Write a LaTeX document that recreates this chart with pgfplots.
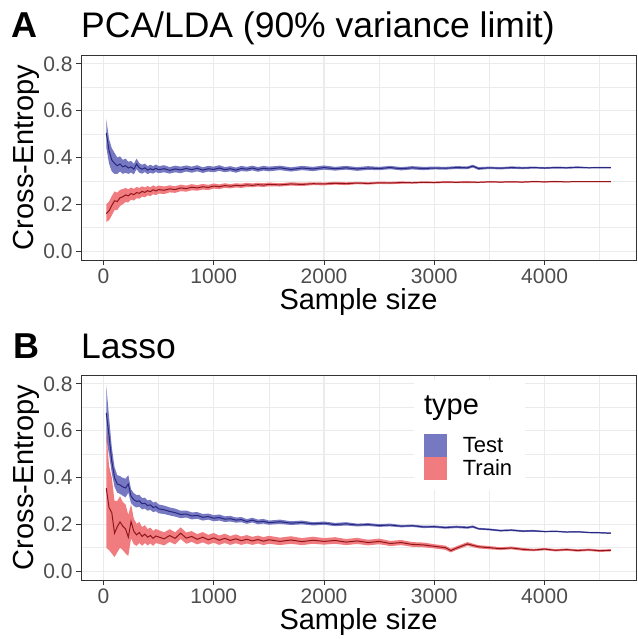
\documentclass[border=0pt]{standalone}
\usepackage{fontspec}
\setmainfont{Liberation Sans}
\usepackage{pgfplots}
\pgfplotsset{compat=1.18}
\usepackage{pgfplotstable}
\usepgfplotslibrary{fillbetween}
\definecolor{gray92}{RGB}{235,235,235}
\definecolor{gray20}{RGB}{51,51,51}
\definecolor{gray30}{RGB}{77,77,77}
\definecolor{testfill}{RGB}{118,121,193}
\definecolor{trainfill}{RGB}{241,124,128}
\definecolor{testline}{RGB}{40,40,128}
\definecolor{trainline}{RGB}{145,22,28}

\pgfplotstableread{
x y lo hi
25 0.505 0.445 0.565
50 0.430 0.375 0.480
75 0.390 0.340 0.440
100 0.375 0.330 0.420
125 0.365 0.330 0.400
150 0.372 0.340 0.405
175 0.360 0.330 0.390
200 0.365 0.335 0.395
225 0.355 0.330 0.382
250 0.360 0.336 0.385
275 0.350 0.328 0.373
300 0.372 0.350 0.395
325 0.356 0.335 0.376
350 0.350 0.331 0.369
375 0.356 0.338 0.374
400 0.346 0.329 0.363
425 0.352 0.335 0.369
450 0.347 0.331 0.363
475 0.354 0.338 0.370
500 0.348 0.333 0.363
550 0.352 0.337 0.367
600 0.345 0.331 0.359
650 0.351 0.337 0.365
700 0.347 0.333 0.361
750 0.353 0.340 0.366
800 0.348 0.335 0.361
850 0.354 0.341 0.367
900 0.346 0.334 0.358
950 0.352 0.340 0.364
1000 0.349 0.337 0.361
1050 0.355 0.343 0.367
1100 0.348 0.337 0.359
1150 0.352 0.341 0.363
1200 0.346 0.335 0.357
1250 0.353 0.342 0.364
1300 0.350 0.340 0.360
1350 0.355 0.345 0.365
1400 0.349 0.339 0.359
1450 0.354 0.344 0.364
1500 0.351 0.341 0.361
1600 0.356 0.346 0.365
1700 0.349 0.340 0.358
1800 0.355 0.346 0.364
1900 0.351 0.342 0.360
2000 0.357 0.348 0.366
2100 0.352 0.344 0.360
2200 0.356 0.348 0.364
2300 0.351 0.343 0.359
2400 0.355 0.347 0.363
2500 0.353 0.346 0.360
2600 0.357 0.350 0.364
2700 0.352 0.345 0.359
2800 0.356 0.349 0.363
2900 0.353 0.346 0.360
3000 0.355 0.349 0.361
3100 0.354 0.348 0.360
3200 0.357 0.351 0.363
3300 0.356 0.350 0.362
3350 0.363 0.357 0.369
3400 0.353 0.347 0.359
3500 0.356 0.351 0.361
3600 0.354 0.349 0.359
3700 0.357 0.352 0.362
3800 0.355 0.350 0.360
3900 0.357 0.353 0.361
4000 0.355 0.351 0.359
4100 0.357 0.353 0.361
4200 0.356 0.352 0.360
4300 0.358 0.354 0.362
4400 0.356 0.353 0.359
4500 0.357 0.354 0.360
4600 0.357 0.354 0.360
}\Atest

\pgfplotstableread{
x y lo hi
25 0.160 0.125 0.200
50 0.172 0.132 0.212
75 0.195 0.152 0.235
100 0.215 0.175 0.255
125 0.212 0.175 0.250
150 0.228 0.193 0.262
175 0.232 0.200 0.265
200 0.240 0.210 0.270
225 0.236 0.208 0.264
250 0.246 0.220 0.272
275 0.241 0.216 0.266
300 0.250 0.226 0.274
325 0.247 0.224 0.270
350 0.255 0.233 0.277
375 0.251 0.230 0.272
400 0.258 0.238 0.278
425 0.254 0.235 0.273
450 0.262 0.243 0.281
475 0.257 0.239 0.275
500 0.263 0.246 0.280
550 0.260 0.244 0.276
600 0.266 0.251 0.281
650 0.263 0.249 0.277
700 0.270 0.256 0.284
750 0.267 0.254 0.280
800 0.273 0.260 0.286
850 0.270 0.258 0.282
900 0.275 0.263 0.287
950 0.272 0.261 0.283
1000 0.278 0.267 0.289
1050 0.275 0.265 0.285
1100 0.280 0.270 0.290
1150 0.277 0.268 0.286
1200 0.281 0.272 0.290
1250 0.279 0.270 0.288
1300 0.283 0.274 0.292
1350 0.281 0.273 0.289
1400 0.284 0.276 0.292
1450 0.282 0.274 0.290
1500 0.285 0.277 0.293
1600 0.283 0.276 0.290
1700 0.287 0.280 0.294
1800 0.285 0.278 0.292
1900 0.288 0.282 0.294
2000 0.287 0.281 0.293
2100 0.290 0.284 0.296
2200 0.288 0.282 0.294
2300 0.291 0.286 0.296
2400 0.289 0.284 0.294
2500 0.292 0.287 0.297
2600 0.291 0.286 0.296
2700 0.293 0.288 0.298
2800 0.292 0.288 0.296
2900 0.294 0.290 0.298
3000 0.293 0.289 0.297
3100 0.295 0.291 0.299
3200 0.294 0.290 0.298
3300 0.295 0.291 0.299
3400 0.294 0.291 0.297
3500 0.296 0.293 0.299
3600 0.295 0.292 0.298
3700 0.296 0.293 0.299
3800 0.295 0.292 0.298
3900 0.297 0.294 0.300
4000 0.296 0.293 0.299
4100 0.297 0.294 0.300
4200 0.296 0.294 0.298
4300 0.297 0.295 0.299
4400 0.297 0.295 0.299
4500 0.297 0.295 0.299
4600 0.297 0.295 0.299
}\Atrain

\pgfplotstableread{
x y lo hi
25 0.676 0.560 0.795
50 0.580 0.500 0.660
75 0.470 0.420 0.530
100 0.400 0.360 0.445
125 0.372 0.335 0.410
150 0.368 0.330 0.406
175 0.360 0.322 0.398
200 0.355 0.315 0.395
225 0.372 0.335 0.410
250 0.320 0.290 0.350
275 0.305 0.278 0.333
300 0.298 0.272 0.325
325 0.300 0.275 0.326
350 0.288 0.264 0.312
375 0.290 0.267 0.314
400 0.280 0.258 0.302
425 0.283 0.262 0.305
450 0.272 0.252 0.293
475 0.276 0.256 0.296
500 0.266 0.247 0.285
550 0.262 0.244 0.280
600 0.255 0.238 0.272
650 0.250 0.233 0.267
700 0.242 0.226 0.258
750 0.244 0.229 0.259
800 0.236 0.221 0.251
850 0.238 0.224 0.252
900 0.230 0.216 0.244
950 0.233 0.220 0.246
1000 0.226 0.213 0.239
1050 0.229 0.216 0.242
1100 0.222 0.210 0.234
1150 0.224 0.212 0.236
1200 0.218 0.207 0.229
1250 0.220 0.209 0.231
1300 0.212 0.202 0.222
1350 0.218 0.208 0.228
1400 0.210 0.200 0.220
1450 0.213 0.203 0.223
1500 0.207 0.198 0.216
1600 0.211 0.202 0.220
1700 0.205 0.197 0.213
1800 0.208 0.200 0.216
1900 0.202 0.195 0.209
2000 0.205 0.198 0.212
2100 0.199 0.192 0.206
2200 0.202 0.195 0.209
2300 0.197 0.191 0.203
2400 0.199 0.193 0.205
2500 0.195 0.189 0.201
2600 0.197 0.191 0.203
2700 0.192 0.187 0.197
2800 0.194 0.189 0.199
2900 0.189 0.184 0.194
3000 0.190 0.185 0.195
3100 0.186 0.181 0.191
3200 0.189 0.184 0.194
3300 0.186 0.181 0.191
3350 0.190 0.185 0.195
3400 0.181 0.177 0.185
3500 0.178 0.174 0.182
3600 0.173 0.169 0.177
3700 0.175 0.171 0.179
3800 0.171 0.167 0.175
3900 0.172 0.168 0.176
4000 0.169 0.166 0.172
4100 0.170 0.167 0.173
4200 0.167 0.164 0.170
4300 0.168 0.165 0.171
4400 0.165 0.162 0.168
4500 0.164 0.161 0.167
4600 0.162 0.159 0.165
}\Btest

\pgfplotstableread{
x y lo hi
25 0.355 0.100 0.600
50 0.272 0.090 0.450
75 0.250 0.075 0.400
100 0.162 0.060 0.300
125 0.190 0.080 0.300
150 0.210 0.100 0.320
175 0.192 0.090 0.295
200 0.180 0.075 0.285
225 0.145 0.065 0.240
250 0.212 0.140 0.285
275 0.170 0.115 0.225
300 0.155 0.108 0.202
325 0.165 0.120 0.210
350 0.148 0.108 0.188
375 0.158 0.120 0.196
400 0.145 0.110 0.180
425 0.152 0.118 0.186
450 0.140 0.108 0.172
475 0.150 0.120 0.180
500 0.146 0.117 0.175
550 0.138 0.110 0.166
600 0.152 0.125 0.179
650 0.140 0.114 0.166
700 0.162 0.137 0.187
750 0.141 0.117 0.165
800 0.148 0.125 0.171
850 0.136 0.114 0.158
900 0.145 0.123 0.167
950 0.134 0.113 0.155
1000 0.142 0.121 0.163
1050 0.132 0.112 0.152
1100 0.140 0.120 0.160
1150 0.131 0.112 0.150
1200 0.138 0.119 0.157
1250 0.130 0.112 0.148
1300 0.136 0.118 0.154
1350 0.129 0.112 0.146
1400 0.135 0.118 0.152
1450 0.128 0.111 0.145
1500 0.134 0.117 0.151
1600 0.127 0.111 0.143
1700 0.133 0.117 0.149
1800 0.126 0.111 0.141
1900 0.132 0.117 0.147
2000 0.127 0.113 0.141
2100 0.131 0.117 0.145
2200 0.124 0.111 0.137
2300 0.129 0.116 0.142
2400 0.122 0.110 0.134
2500 0.127 0.115 0.139
2600 0.118 0.107 0.129
2700 0.122 0.111 0.133
2800 0.114 0.104 0.124
2900 0.112 0.102 0.122
3000 0.106 0.097 0.115
3100 0.100 0.091 0.109
3150 0.088 0.080 0.096
3200 0.098 0.090 0.106
3300 0.116 0.108 0.124
3400 0.104 0.097 0.111
3500 0.100 0.093 0.107
3600 0.096 0.090 0.102
3700 0.099 0.093 0.105
3800 0.093 0.087 0.099
3900 0.090 0.085 0.095
4000 0.094 0.089 0.099
4100 0.089 0.084 0.094
4200 0.092 0.087 0.097
4300 0.088 0.083 0.093
4400 0.091 0.086 0.096
4500 0.087 0.082 0.092
4600 0.089 0.084 0.094
}\Btrain

\pgfplotsset{gg/.style={
  width=555pt, height=205pt, scale only axis,
  xmin=-204, xmax=4829, ymin=-0.038, ymax=0.838,
  xtick={0,1000,2000,3000,4000}, minor xtick={500,1500,2500,3500,4500},
  ytick={0,0.2,0.4,0.6,0.8}, minor ytick={0.1,0.3,0.5,0.7},
  /pgf/number format/assume math mode=true,
  xticklabel style={/pgf/number format/1000 sep={}, font=\fontsize{21}{24}\selectfont, text=gray30},
  yticklabel style={/pgf/number format/fixed, /pgf/number format/fixed zerofill,
     /pgf/number format/precision=1, font=\fontsize{21}{24}\selectfont, text=gray30},
  grid=both,
  major grid style={draw=gray92, line width=1.1pt},
  minor grid style={draw=gray92, line width=0.55pt},
  axis line style={draw=gray20, line width=0.9pt},
  tick style={draw=gray20, line width=0.9pt},
  major tick length=5pt, minor tick length=0pt,
  tick align=outside, tick pos=left,
  xlabel={Sample size}, ylabel={Cross-Entropy},
  xlabel style={font=\fontsize{29}{32}\selectfont, at={(axis description cs:0.5,0)}, anchor=base, yshift=-49pt, inner sep=0pt},
  ylabel style={font=\fontsize{29}{32}\selectfont, at={(axis description cs:0,0.5)}, anchor=base, yshift=48pt, inner sep=0pt},
}}

\begin{document}
\begin{tikzpicture}
\path (0,0) rectangle (637pt,-639pt);
\node[anchor=base west, inner sep=0pt, font=\fontsize{36}{38}\selectfont\bfseries] at (11pt,-38pt) {A};
\node[anchor=base west, inner sep=0pt, font=\fontsize{35.5}{38}\selectfont] at (81pt,-38pt) {PCA/LDA (90\% variance limit)};
\node[anchor=base west, inner sep=0pt, font=\fontsize{36}{38}\selectfont\bfseries] at (13pt,-358pt) {B};
\node[anchor=base west, inner sep=0pt, font=\fontsize{35.5}{38}\selectfont] at (81pt,-358pt) {Lasso};

\begin{axis}[gg, at={(81pt,-260pt)}, anchor=south west]
\addplot[draw=none, name path=atl, forget plot] table[x=x,y=lo]{\Atest};
\addplot[draw=none, name path=ath, forget plot] table[x=x,y=hi]{\Atest};
\addplot[fill=testfill, draw=none, forget plot] fill between[of=atl and ath];
\addplot[draw=none, name path=arl, forget plot] table[x=x,y=lo]{\Atrain};
\addplot[draw=none, name path=arh, forget plot] table[x=x,y=hi]{\Atrain};
\addplot[fill=trainfill, draw=none, forget plot] fill between[of=arl and arh];
\addplot[testline, line width=1pt, forget plot] table[x=x,y=y]{\Atest};
\addplot[trainline, line width=1pt, forget plot] table[x=x,y=y]{\Atrain};
\end{axis}

\begin{axis}[gg, at={(81pt,-580pt)}, anchor=south west,
  legend image code/.code={\fill[#1, draw=none] (0pt,-11.5pt) rectangle (23pt,11.5pt);},
  legend style={at={(0.612,0.722)}, anchor=north west, draw=none, fill=none,
     font=\fontsize{22}{24}\selectfont, row sep=0pt},
  legend cell align=left]
\fill[white] (axis cs:2818,0.3466) rectangle (axis cs:3820,0.816);
\node[anchor=base west, inner sep=0pt, font=\fontsize{29}{32}\selectfont] at (axis cs:2906,0.668) {type};
\addplot[draw=none, name path=btl, forget plot] table[x=x,y=lo]{\Btest};
\addplot[draw=none, name path=bth, forget plot] table[x=x,y=hi]{\Btest};
\addplot[fill=testfill, draw=none, forget plot] fill between[of=btl and bth];
\addplot[draw=none, name path=brl, forget plot] table[x=x,y=lo]{\Btrain};
\addplot[draw=none, name path=brh, forget plot] table[x=x,y=hi]{\Btrain};
\addplot[fill=trainfill, draw=none, forget plot] fill between[of=brl and brh];
\addplot[testline, line width=1pt, forget plot] table[x=x,y=y]{\Btest};
\addplot[trainline, line width=1pt, forget plot] table[x=x,y=y]{\Btrain};
\addlegendimage{fill=testfill}
\addlegendentry{\hspace*{14pt}Test}
\addlegendimage{fill=trainfill}
\addlegendentry{\hspace*{14pt}Train}
\end{axis}
\end{tikzpicture}
\end{document}
